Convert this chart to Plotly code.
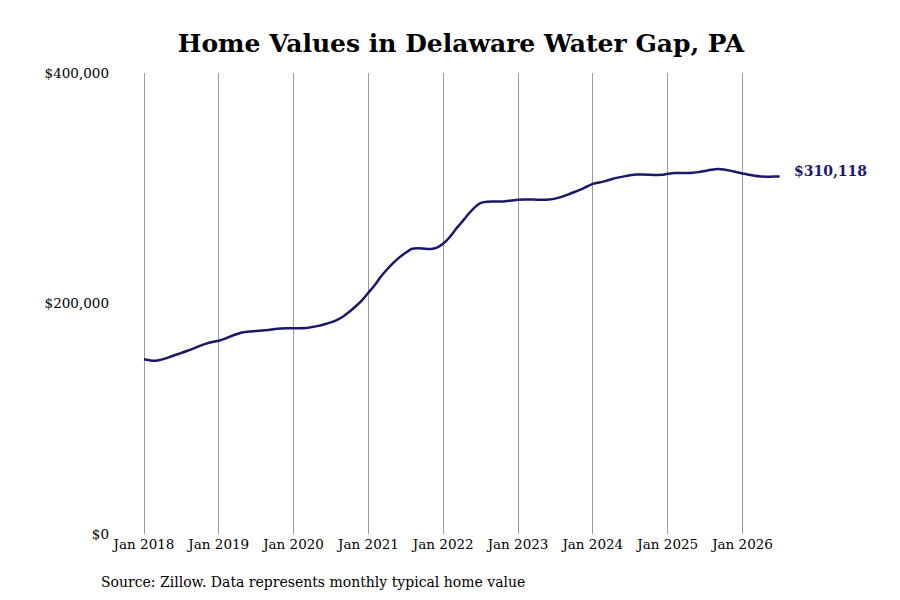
import plotly.graph_objects as go
import pandas as pd

months = pd.date_range("2018-01-01", "2026-07-01", freq="MS")

values = [
    # 2018
    151600, 150600, 150400, 151500, 153200, 155300, 157000, 159000, 161100, 163200, 165200, 166600,
    # 2019
    167700, 169500, 171600, 173500, 175000, 175700, 176100, 176600, 177000, 177800, 178300, 178500,
    # 2020
    178500, 178500, 178700, 179600, 180600, 182000, 183600, 185800, 189000, 193000, 197800, 203000,
    # 2021
    209500, 216000, 223000, 229500, 235000, 240000, 244000, 247500, 248000, 247600, 247300, 248500,
    # 2022
    252000, 257500, 264000, 270500, 277000, 283000, 287000, 288300, 288500, 288500, 288800, 289400,
    # 2023
    290000, 290200, 290200, 290100, 290000, 290300, 291000, 292500, 294500, 296500, 298800, 301300,
    # 2024
    303800, 305000, 306200, 307800, 309200, 310300, 311200, 311900, 312000, 311700, 311400, 311700,
    # 2025
    312500, 313200, 313300, 313300, 313500, 314000, 315000, 316000, 316700, 316300, 315300, 314000,
    # 2026
    312800, 311800, 310800, 310200, 310000, 310100, 310118,
]

x_tick_vals = [f"{y}-01-01" for y in range(2018, 2027)]
y_tick_vals = [0, 200000, 400000]
y_tick_text = ["$0", "$200,000", "$400,000"]

title_text = "Home Values in Delaware Water Gap, PA"
source_text = "Source: Zillow. Data represents monthly typical home value"
last_label = "$310,118"

line_color = "#1a1868"
font_family = "DejaVu Serif"

fig = go.Figure()
fig.add_trace(go.Scatter(
    x=months, y=values, mode="lines",
    line=dict(color=line_color, width=2.5, shape="spline", smoothing=0.5),
    hoverinfo="skip", showlegend=False,
))

fig.add_annotation(
    x=months[-1], y=values[-1], xref="x", yref="y",
    text=f"<b>{last_label}</b>", showarrow=False,
    xanchor="left", yanchor="middle", xshift=12, yshift=6,
    font=dict(family=font_family, size=14, color=line_color),
)

fig.add_annotation(
    x=(91 - 102) / 770, y=-48 / 461, xref="paper", yref="paper",
    text=source_text, showarrow=False, xanchor="left", yanchor="middle",
    font=dict(family=font_family, size=14, color="#000000"),
)

fig.update_layout(
    width=900, height=600,
    margin=dict(l=102, r=28, t=65, b=74),
    paper_bgcolor="white", plot_bgcolor="white",
    font=dict(family=font_family, size=13.5, color="#000000"),
    title=dict(
        text=f"<b>{title_text}</b>", xref="container", yref="container",
        x=453 / 900, y=1 - 35 / 600, xanchor="center", yanchor="middle",
        font=dict(family=font_family, size=25, color="#000000"),
    ),
    xaxis=dict(
        range=["2017-07-19", "2027-11-03"],
        tickvals=x_tick_vals, tickformat="%b %Y",
        showgrid=True, gridcolor="#9a9a9a", gridwidth=1,
        zeroline=False, showline=False, ticks="",
        tickfont=dict(family=font_family, size=13.5, color="#000000"),
    ),
    yaxis=dict(
        range=[0, 400000],
        tickvals=y_tick_vals, ticktext=y_tick_text,
        showgrid=False, zeroline=False, showline=False, ticks="",
        tickfont=dict(family=font_family, size=13.5, color="#000000"),
    ),
)

fig.write_html("out.html")
